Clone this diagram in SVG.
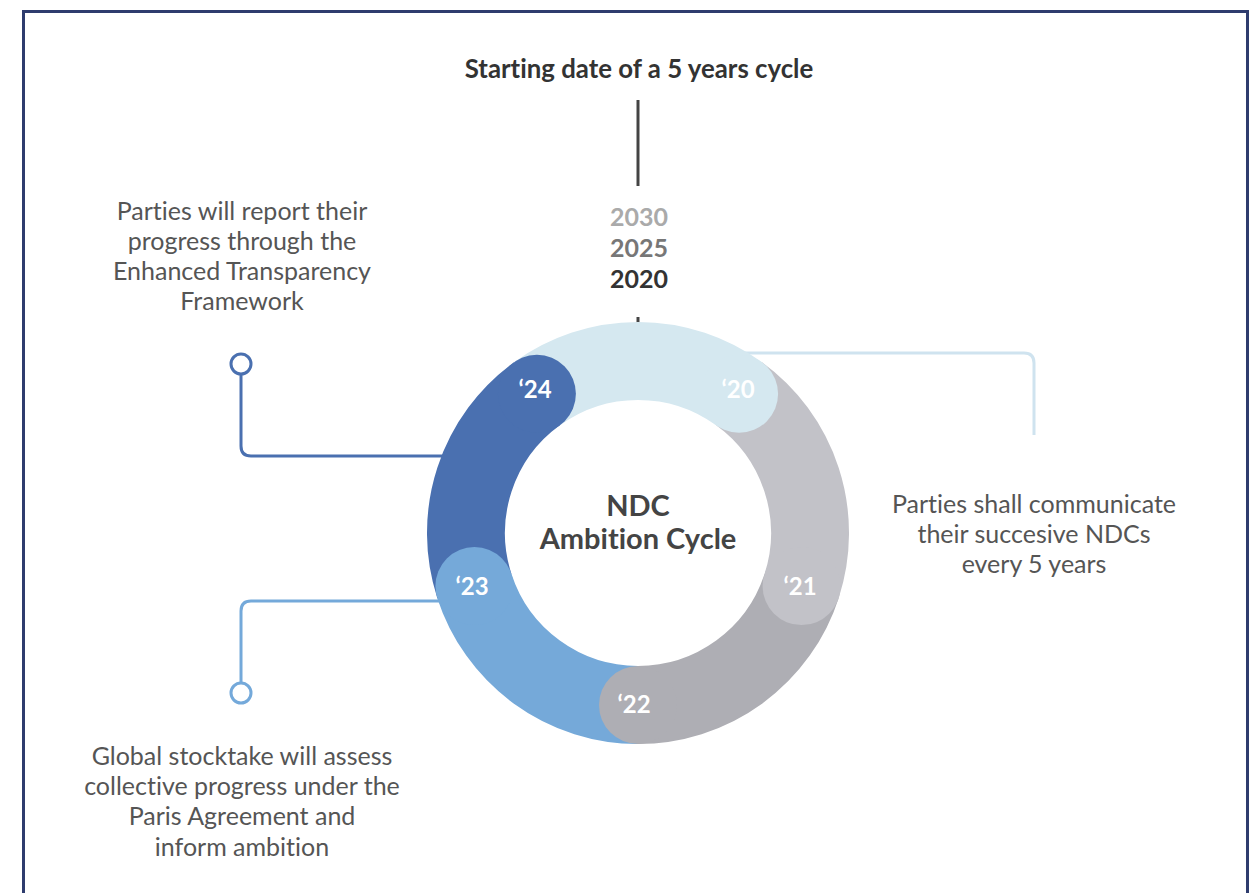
<svg xmlns="http://www.w3.org/2000/svg" width="1255" height="893" viewBox="0 0 1255 893">
<style>
text{font-variant-ligatures:none}
.txt{font-family:Lato,"Open Sans","Liberation Sans",sans-serif;font-size:25px;fill:#555;text-anchor:middle}
.yr{font-family:Lato,"Liberation Sans",sans-serif;font-size:25px;font-weight:bold;text-anchor:middle}
.lbl{font-family:Lato,"Liberation Sans",sans-serif;font-size:24px;font-weight:bold;fill:#fff;text-anchor:middle}
.seg{fill:none;stroke-width:78}
.conn{fill:none;stroke-width:3}
</style>
<rect x="0" y="0" width="1255" height="893" fill="#fff"/>
<rect x="23.5" y="11.5" width="1224" height="900" fill="none" stroke="#2e3c6e" stroke-width="3"/>

<g id="title">
<text x="639" y="78" class="txt" style="font-size:25.8px;font-weight:bold;fill:#333">Starting date of a 5 years cycle</text>
</g>

<g id="connectors">
<line x1="638" y1="100" x2="638" y2="186" stroke="#444" stroke-width="3"/>
<line x1="638" y1="317" x2="638" y2="330" stroke="#444" stroke-width="3"/>
<path class="conn" stroke="#4a70b0" d="M241 374 V446 Q241 456 251 456 H445"/>
<circle cx="241" cy="364" r="10" fill="#fff" stroke="#4a70b0" stroke-width="3"/>
<path class="conn" stroke="#74a9da" d="M241 683 V611 Q241 601 251 601 H440"/>
<circle cx="241" cy="693" r="10" fill="#fff" stroke="#74a9da" stroke-width="3"/>
<path class="conn" stroke="#cfe3ef" d="M740 353 H1024 Q1034 353 1034 363 V435"/>
</g>

<g id="years">
<text x="639" y="226" class="yr" fill="#aaaaaa">2030</text>
<text x="639" y="257" class="yr" fill="#777777">2025</text>
<text x="639" y="288" class="yr" fill="#333333">2020</text>
</g>

<g id="ring">
<path class="seg" stroke="#d5e8f0" d="M536.9 393.8 A172 172 0 0 1 739.1 393.8"/>
<path class="seg" stroke="#c2c2c8" d="M739.1 393.8 A172 172 0 0 1 801.6 586.1"/>
<path class="seg" stroke="#aeaeb4" d="M801.6 586.1 A172 172 0 0 1 638 705"/>
<path class="seg" stroke="#75a9d9" d="M638 705 A172 172 0 0 1 474.4 586.1"/>
<path class="seg" stroke="#4a70b0" d="M474.4 586.1 A172 172 0 0 1 536.9 393.8"/>
<circle cx="739.1" cy="393.8" r="39" fill="#d5e8f0"/>
<circle cx="801.6" cy="586.1" r="39" fill="#c2c2c8"/>
<circle cx="638" cy="705" r="39" fill="#aeaeb4"/>
<circle cx="474.4" cy="586.1" r="39" fill="#75a9d9"/>
<circle cx="536.9" cy="393.8" r="39" fill="#4a70b0"/>
</g>

<g id="y20"><text x="738" y="398" class="lbl">‘20</text></g>
<g id="y21"><text x="800" y="595" class="lbl">‘21</text></g>
<g id="y22"><text x="634" y="713" class="lbl">‘22</text></g>
<g id="y23"><text x="472" y="595" class="lbl">‘23</text></g>
<g id="y24"><text x="535" y="398" class="lbl">‘24</text></g>

<g id="center">
<text x="638" y="516" class="txt" style="font-size:29px;font-weight:bold;fill:#444">NDC</text>
<text x="638" y="549" class="txt" style="font-size:29px;font-weight:bold;fill:#444">Ambition Cycle</text>
</g>

<g id="note-report">
<text class="txt"><tspan x="242" y="220">Parties will report their</tspan><tspan x="242" y="250">progress through the</tspan><tspan x="242" y="280">Enhanced Transparency</tspan><tspan x="242" y="310">Framework</tspan></text>
</g>

<g id="note-stocktake">
<text class="txt"><tspan x="242" y="765">Global stocktake will assess</tspan><tspan x="242" y="795">collective progress under the</tspan><tspan x="242" y="825">Paris Agreement and</tspan><tspan x="242" y="856">inform ambition</tspan></text>
</g>

<g id="note-communicate">
<text class="txt"><tspan x="1034" y="513">Parties shall communicate</tspan><tspan x="1034" y="543">their succesive NDCs</tspan><tspan x="1034" y="573">every 5 years</tspan></text>
</g>
</svg>
